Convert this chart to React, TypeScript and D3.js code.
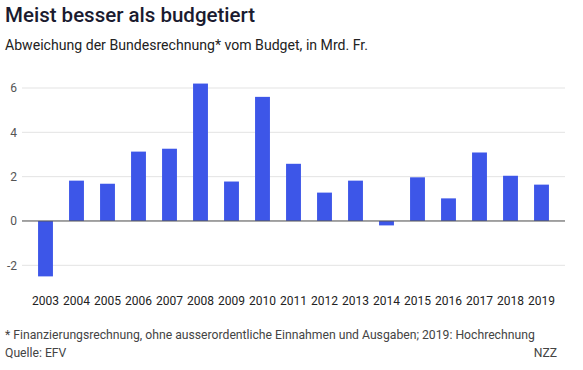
import { useEffect, useRef } from "react";
import * as d3 from "d3";

const years = [
  "2003", "2004", "2005", "2006", "2007", "2008", "2009", "2010", "2011",
  "2012", "2013", "2014", "2015", "2016", "2017", "2018", "2019",
];
const deviation = [
  -2.5, 1.82, 1.68, 3.13, 3.26, 6.2, 1.78, 5.6, 2.58,
  1.28, 1.82, -0.2, 1.97, 1.02, 3.09, 2.04, 1.64,
];
const yTicks = [-2, 0, 2, 4, 6];

const FONT = "Roboto, 'Noto Sans', sans-serif";

export default function App() {
  const ref = useRef<SVGSVGElement | null>(null);

  useEffect(() => {
    if (!ref.current) return;
    const width = 583;
    const height = 370;

    const svg = d3.select(ref.current);
    svg.selectAll("*").remove();
    svg.attr("width", width).attr("height", height);

    svg.append("rect").attr("width", width).attr("height", height).attr("fill", "#fff");

    svg
      .append("text")
      .attr("x", 5)
      .attr("y", 22)
      .attr("font-family", FONT)
      .attr("font-size", 20.5)
      .attr("font-weight", 500)
      .attr("fill", "#1b1b2f")
      .text("Meist besser als budgetiert");

    svg
      .append("text")
      .attr("x", 5)
      .attr("y", 50)
      .attr("font-family", FONT)
      .attr("font-size", 14.1)
      .attr("fill", "#222")
      .text("Abweichung der Bundesrechnung* vom Budget, in Mrd. Fr.");

    const x = d3.scaleBand<string>().domain(years).range([30, 557]).paddingInner(0.52).paddingOuter(0.26);
    const y = d3.scaleLinear().domain([-2, 6]).range([265.3, 88]);

    const grid = svg.append("g");
    grid
      .selectAll("line")
      .data(yTicks)
      .join("line")
      .attr("x1", 22)
      .attr("x2", 565)
      .attr("y1", (d) => y(d))
      .attr("y2", (d) => y(d))
      .attr("stroke", "#e3e3e3")
      .attr("stroke-width", 1);

    grid
      .selectAll("text")
      .data(yTicks)
      .join("text")
      .attr("x", 17)
      .attr("y", (d) => y(d))
      .attr("dy", "0.35em")
      .attr("text-anchor", "end")
      .attr("font-family", FONT)
      .attr("font-size", 12)
      .attr("fill", "#555")
      .text((d) => String(d));

    svg
      .append("g")
      .selectAll("rect")
      .data(deviation)
      .join("rect")
      .attr("x", (_, i) => x(years[i]) as number)
      .attr("width", x.bandwidth())
      .attr("y", (d) => y(Math.max(0, d)))
      .attr("height", (d) => Math.abs(y(d) - y(0)))
      .attr("fill", "#3d56e8");

    svg
      .append("line")
      .attr("x1", 22)
      .attr("x2", 565)
      .attr("y1", y(0))
      .attr("y2", y(0))
      .attr("stroke", "#555")
      .attr("stroke-width", 1);

    svg
      .append("g")
      .selectAll("text")
      .data(years)
      .join("text")
      .attr("x", (d) => (x(d) as number) + x.bandwidth() / 2)
      .attr("y", 305)
      .attr("text-anchor", "middle")
      .attr("font-family", FONT)
      .attr("font-size", 12)
      .attr("fill", "#222")
      .text((d) => d);

    const foot = [
      { text: "* Finanzierungsrechnung, ohne ausserordentliche Einnahmen und Ausgaben; 2019: Hochrechnung", x: 5, y: 339, anchor: "start" },
      { text: "Quelle: EFV", x: 5, y: 357, anchor: "start" },
      { text: "NZZ", x: 557, y: 357, anchor: "end" },
    ];
    svg
      .append("g")
      .selectAll("text")
      .data(foot)
      .join("text")
      .attr("x", (d) => d.x)
      .attr("y", (d) => d.y)
      .attr("text-anchor", (d) => d.anchor)
      .attr("font-family", FONT)
      .attr("font-size", 12.2)
      .attr("fill", "#444")
      .text((d) => d.text);
  }, []);

  return <svg ref={ref} style={{ position: "absolute", left: 0, top: 0 }} />;
}
